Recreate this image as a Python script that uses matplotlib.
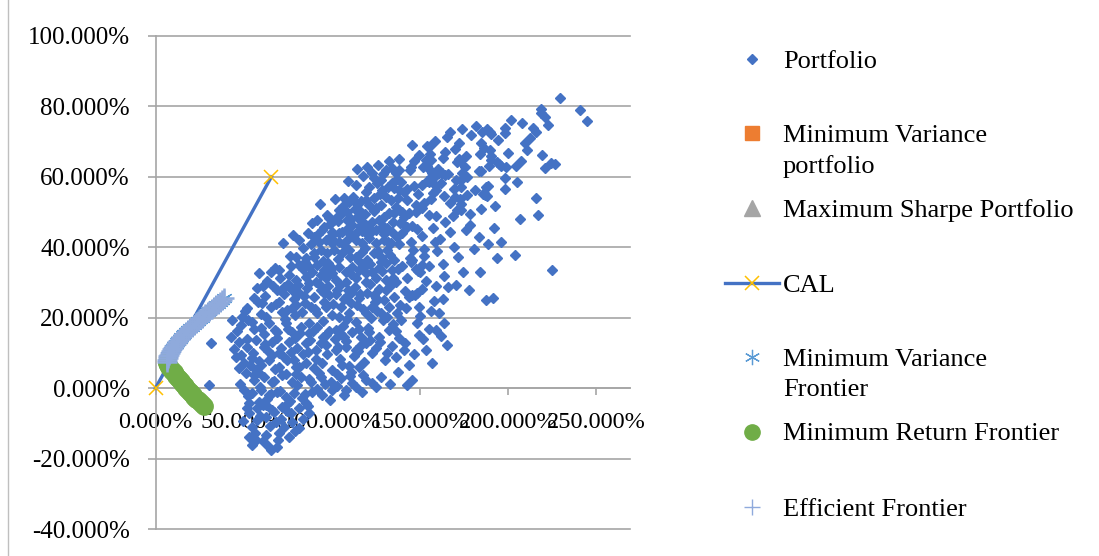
import matplotlib.pyplot as plt
from matplotlib.ticker import FuncFormatter, MultipleLocator
from matplotlib.lines import Line2D
import numpy as np

# risk (std dev, %) and return (%) of the simulated portfolios, grouped by area of the cloud
top_sd = [229.2, 240.6, 244.5, 218.5, 218.5, 220.7, 207.7, 222.4, 214.0, 215.6,
          198.1, 198.1, 181.7, 187.9, 189.6, 190.2, 185.1, 173.8, 165.3, 209.4,
          210.6, 184.5, 186.2, 189.6, 190.2, 190.2, 172.1, 169.8, 176.0, 172.1,
          170.9, 172.6, 163.0, 154.0, 155.7, 155.7, 156.2, 153.4, 154.0, 151.7,
          155.7, 145.5, 146.6, 144.9, 144.3, 219.0, 193.6, 194.7, 195.8, 198.7,
          204.3, 220.7, 224.1, 226.4, 183.4, 184.5, 189.0, 173.8, 176.6, 173.2,
          170.4, 160.2, 160.7, 162.4, 165.8, 159.0, 164.1, 156.8, 156.2, 157.9,
          155.1, 198.1, 204.9, 187.3, 188.5, 186.2, 186.8, 187.9, 185.6, 169.2,
          173.2, 163.6, 169.8, 172.6, 173.2, 170.9, 173.2, 159.0, 157.3, 156.2,
          159.0, 215.6, 216.8, 184.5, 178.3, 178.3, 168.7, 167.0, 169.2, 191.9,
          195.8, 193.6, 203.8, 183.4, 184.0, 224.7, 155.1, 159.0, 158.5, 159.6,
          152.3, 152.3, 145.5, 144.9, 151.1, 155.1, 147.7, 148.9, 150.0, 163.6,
          165.8, 170.4, 151.1, 145.5, 143.8, 147.2, 148.3, 157.9, 187.3, 191.3,
          142.1, 149.4, 138.1, 138.1, 139.2, 138.1, 140.9, 142.6, 146.6, 151.1,
          138.1, 139.8, 140.9, 143.8, 140.9, 142.6, 145.5, 148.3, 139.8, 144.9,
          152.3, 147.7, 151.1, 147.7]
top_ret = [82.4, 79.0, 75.9, 79.3, 78.1, 77.0, 75.3, 74.7, 73.9, 72.7,
           73.9, 72.4, 74.4, 73.6, 72.7, 72.2, 72.7, 73.6, 71.3, 69.6,
           67.6, 69.6, 68.2, 67.6, 65.9, 64.8, 69.6, 67.9, 65.9, 65.0,
           64.2, 64.5, 65.3, 68.7, 68.7, 66.5, 64.8, 64.8, 63.0, 62.8,
           61.9, 69.0, 64.5, 62.8, 61.9, 66.2, 64.2, 63.6, 63.0, 62.8,
           63.0, 62.5, 63.9, 63.6, 61.6, 61.6, 63.0, 61.1, 59.9, 59.1,
           59.1, 62.2, 61.1, 61.1, 60.8, 60.5, 60.5, 61.1, 59.9, 59.9,
           58.5, 59.6, 58.5, 57.1, 57.4, 55.4, 54.8, 54.5, 55.1, 56.5,
           57.1, 54.5, 54.2, 53.7, 52.3, 50.6, 50.6, 57.4, 55.4, 53.7,
           56.3, 54.0, 49.2, 50.8, 49.4, 46.3, 48.9, 44.3, 40.0, 45.4,
           41.5, 36.9, 37.8, 42.9, 32.9, 33.5, 49.1, 48.8, 41.5, 38.9,
           39.5, 37.5, 36.4, 35.8, 34.9, 34.6, 33.8, 33.2, 32.9, 31.8,
           28.7, 29.3, 28.1, 26.4, 25.8, 26.4, 27.0, 24.7, 25.0, 25.6,
           22.7, 23.0, 65.0, 61.9, 58.5, 56.3, 55.7, 56.5, 57.4, 57.7,
           50.6, 50.0, 48.6, 49.7, 46.3, 45.7, 46.0, 45.2, 44.0, 41.5,
           52.6, 52.0, 51.1, 50.0]

mid_sd = [120.0, 122.8, 124.0, 125.7, 121.1, 128.5, 130.7, 134.1, 136.4, 127.9,
          134.1, 135.3, 112.1, 109.8, 113.8, 115.5, 119.4, 121.1, 124.0, 125.1,
          127.9, 130.7, 133.6, 137.5, 136.4, 104.1, 105.8, 108.7, 103.0, 91.7,
          98.5, 101.3, 108.7, 111.5, 114.3, 117.2, 119.4, 122.8, 126.8, 129.6,
          132.4, 135.3, 125.1, 128.5, 131.3, 134.1, 119.4, 113.8, 108.1, 104.1,
          100.2, 95.7, 90.0, 92.8, 96.8, 100.2, 104.1, 108.7, 113.8, 117.2,
          121.1, 125.1, 129.6, 133.6, 137.0, 79.8, 85.5, 90.0, 94.0, 97.4,
          101.3, 105.8, 109.8, 113.8, 117.2, 120.0, 124.0, 127.9, 131.3, 135.3,
          81.5, 87.2, 91.7, 95.7, 100.2, 104.1, 108.1, 111.5, 115.5, 119.4,
          122.8, 126.8, 130.7, 134.1, 70.2, 75.8, 79.8, 85.5, 91.1, 96.8,
          102.4, 108.1, 113.8, 119.4, 125.1, 130.7, 136.4, 69.1, 57.7, 73.0,
          77.5, 81.5, 86.0, 90.0, 94.0, 98.5, 103.0, 108.1, 111.5, 115.5,
          120.0, 125.1, 130.7, 135.3, 60.6, 65.7, 70.2, 74.7, 79.8, 83.2,
          88.3, 91.7, 96.8, 100.2, 105.3, 109.8, 114.3, 119.4, 122.8, 127.9,
          132.4, 137.0, 52.1, 49.2]
mid_ret = [62.8, 61.1, 59.6, 58.2, 57.1, 56.3, 61.9, 62.5, 61.1, 59.1,
           58.2, 56.8, 54.2, 52.8, 52.5, 50.6, 53.4, 52.0, 54.0, 51.1,
           52.0, 54.2, 53.4, 54.0, 51.4, 50.6, 49.7, 50.0, 48.6, 47.7,
           48.3, 47.7, 47.7, 46.3, 48.6, 47.1, 46.3, 47.1, 47.7, 48.6,
           49.7, 49.7, 44.9, 44.9, 45.4, 44.3, 44.0, 44.0, 44.9, 44.0,
           44.3, 45.7, 42.9, 41.5, 42.0, 41.2, 41.5, 42.0, 42.0, 41.2,
           42.6, 41.2, 42.0, 41.2, 42.9, 37.2, 36.9, 37.2, 39.2, 38.3,
           39.2, 38.3, 39.2, 37.2, 38.6, 36.4, 38.3, 37.2, 39.2, 36.4,
           34.9, 34.4, 34.9, 33.5, 34.1, 34.4, 32.9, 34.4, 33.5, 34.9,
           32.9, 34.1, 35.5, 33.5, 33.5, 32.1, 30.7, 31.5, 30.1, 31.2,
           30.7, 30.1, 31.2, 30.1, 31.2, 30.7, 30.1, 27.8, 28.4, 28.7,
           27.8, 27.0, 28.4, 25.8, 27.8, 26.4, 27.8, 25.8, 27.3, 25.6,
           27.0, 25.6, 27.8, 25.8, 24.1, 23.0, 24.4, 22.2, 23.6, 21.6,
           23.0, 21.3, 23.0, 20.7, 23.0, 21.3, 23.6, 21.3, 23.0, 21.3,
           23.0, 21.3, 22.7, 20.2]

low_sd = [43.6, 48.7, 54.9, 60.0, 64.5, 69.1, 74.1, 77.5, 82.6, 87.2,
          91.7, 96.8, 102.4, 107.0, 111.5, 116.6, 121.1, 126.8, 132.4, 43.0,
          47.5, 52.1, 57.2, 61.7, 66.2, 71.3, 75.8, 80.4, 85.5, 91.1,
          96.8, 102.4, 108.1, 113.8, 119.4, 125.1, 131.3, 136.4, 45.8, 50.4,
          54.9, 60.0, 64.5, 70.2, 74.7, 79.8, 85.5, 90.0, 94.5, 100.2,
          105.8, 110.9, 115.5, 51.5, 56.0, 61.7, 66.2, 71.9, 77.5, 82.6,
          88.3, 94.0, 99.6, 105.3, 111.5, 119.4, 122.8]
low_ret = [19.3, 17.9, 18.7, 17.0, 18.5, 15.9, 18.5, 15.9, 17.3, 15.6,
           17.3, 15.1, 16.5, 14.5, 15.9, 14.5, 15.9, 14.5, 16.5, 14.5,
           13.1, 11.6, 13.6, 11.6, 13.1, 11.4, 13.1, 11.4, 12.8, 10.8,
           12.2, 10.8, 11.6, 10.8, 12.8, 11.4, 9.9, 8.8, 8.8, 7.1,
           8.5, 6.5, 8.0, 6.0, 8.0, 6.0, 7.1, 5.7, 7.1, 5.1,
           6.5, 4.5, 6.0, 4.3, 2.3, 3.1, 1.7, 3.7, 1.7, 3.1,
           1.7, 3.1, 1.7, 2.8, 1.4, 2.3, 1.4]

neg_sd = [50.4, 54.9, 60.0, 64.5, 69.1, 74.1, 78.7, 83.2, 88.9, 94.5,
          100.2, 108.1, 113.8, 53.2, 57.7, 62.8, 67.4, 71.9, 77.0, 81.5,
          87.2, 53.2, 57.7, 62.8, 68.5, 73.0, 77.5, 81.5, 54.9, 53.2,
          62.8, 70.2, 75.8, 54.9, 65.7, 69.1, 31.7, 30.6, 160.7, 163.6,
          159.0, 149.4, 153.4, 156.8, 145.5, 139.2, 148.3, 138.1, 140.9, 143.8,
          165.3]
neg_ret = [-0.6, -1.4, -0.6, -2.0, -1.1, -2.6, -1.4, -2.8, -1.1, -2.0,
           -0.6, -0.6, 0.3, -4.3, -5.7, -4.8, -6.8, -5.4, -7.1, -5.7,
           -7.1, -7.1, -9.1, -8.2, -9.7, -11.1, -9.7, -11.4, -11.1, -13.9,
           -13.4, -12.8, -13.9, -16.2, -17.6, -16.8, 12.8, 0.9, 21.3, 18.5,
           16.5, 15.1, 10.8, 7.1, 2.3, 19.3, 18.5, 14.2, 10.8, 6.5,
           12.2]

# further portfolios, one return band per row pair
fill_sd = [113.5, 117.9, 126.2, 131.8, 119.6, 109.3, 128.7, 136.9, 114.2, 132.6,
           93.4, 97.1, 101.8, 106.4, 110.7, 116.3, 99.2, 94.6, 103.7, 112.9,
           118.8, 123.6, 129.2, 134.7, 121.4, 88.6, 106.9, 127.3, 138.6, 115.8,
           72.4, 77.9, 83.5, 86.7, 81.2, 89.6, 94.9, 99.7, 103.2, 107.6,
           111.2, 115.1, 118.6, 122.4, 126.1, 129.8, 133.2, 137.8, 76.3, 88.1,
           97.6, 110.4, 121.7, 131.9, 84.9, 92.3, 101.1, 116.9, 127.7, 105.5,
           58.8, 63.4, 67.9, 62.1, 66.8, 72.6, 76.9, 80.7, 84.2, 88.8,
           92.6, 95.3, 99.9, 104.6, 106.7, 110.8, 113.1, 117.6, 121.8, 123.9,
           128.4, 132.8, 137.6, 60.9, 70.8, 78.4, 87.3, 97.9, 109.2, 119.1,
           126.6, 134.6, 55.8, 65.2, 74.9, 83.6, 93.8, 102.2, 116.2, 129.5,
           46.3, 50.9, 55.6, 57.9, 62.7, 67.8, 71.6, 75.3, 79.1, 84.7,
           86.9, 90.4, 94.8, 98.6, 103.9, 106.2, 110.9, 113.6, 117.8, 120.7,
           124.6, 128.9, 134.9, 138.8, 52.6, 59.7, 68.3, 77.6, 89.2, 100.9,
           108.4, 115.2, 125.8, 131.1, 61.4, 73.2, 82.1, 95.7, 105.1, 122.3,
           44.7, 48.2, 51.6, 55.3, 58.6, 62.3, 65.9, 68.7, 72.8, 76.6,
           79.2, 83.7, 87.6, 90.8, 93.6, 97.2, 101.6, 104.4, 107.9, 112.4,
           116.1, 118.4, 122.6, 127.4, 130.2, 134.2, 47.1, 56.8, 63.7, 69.9,
           78.6, 86.4, 95.2, 103.3, 109.6, 114.9, 121.7, 53.7, 67.6, 81.1,
           47.8, 52.3, 55.9, 59.4, 63.2, 66.9, 70.6, 73.8, 76.1, 80.2,
           84.6, 86.8, 91.4, 96.3, 98.7, 103.1, 106.9, 110.2, 116.8, 58.2,
           65.6, 79.6, 92.7, 102.7, 61.1, 85.1, 117.4, 124.9,
           49.6, 51.9, 56.3, 59.2, 60.8, 64.9, 66.3, 71.2, 74.4, 78.9,
           83.7, 58.4, 69.6, 63.9, 57.1, 75.1, 86.2,
           158.4, 167.2, 178.9, 194.1, 201.7, 183.7, 163.9, 149.6, 175.2, 199.6,
           207.1, 212.4,
           142.8, 148.6, 153.9, 161.7, 166.9, 176.4, 181.2, 164.4, 157.6, 150.8,
           161.3, 175.9, 192.7, 206.4, 180.7, 146.2, 171.3, 162.8, 188.6, 197.9,
           139.7, 142.4, 153.2, 158.9, 141.6, 156.1, 162.9, 174.2, 177.8, 150.2,
           144.3,
           137.2, 141.3, 146.8, 151.8, 155.2, 161.6, 136.1, 142.7, 128.1, 132.7]
fill_ret = [57.8, 60.3, 63.4, 57.2, 55.7, 58.9, 60.8, 59.5, 62.1, 64.6,
            52.3, 49.2, 53.6, 51.8, 48.1, 53.1, 46.7, 44.8, 47.5, 50.9,
            49.4, 50.3, 46.1, 47.3, 45.2, 46.9, 53.9, 55.1, 46.8, 46.0,
            41.3, 43.6, 39.8, 44.1, 42.2, 38.4, 36.1, 43.1, 36.8, 40.4,
            43.5, 36.2, 39.7, 44.2, 38.9, 43.7, 37.9, 40.8, 37.6, 40.9,
            35.4, 37.1, 35.3, 41.6, 35.8, 43.9, 41.9, 44.6, 35.9, 44.2,
            32.6, 30.4, 34.2, 26.3, 28.9, 26.7, 34.6, 29.2, 26.1, 33.1,
            29.7, 26.9, 32.6, 29.4, 25.2, 32.3, 28.8, 34.1, 29.6, 26.4,
            33.2, 28.9, 33.9, 29.1, 31.2, 25.4, 29.8, 29.0, 27.9, 32.7,
            28.2, 31.4, 25.6, 32.9, 29.6, 33.8, 32.2, 26.6, 26.8, 25.1,
            16.2, 21.8, 16.8, 24.6, 20.3, 16.4, 21.6, 16.9, 20.9, 24.3,
            18.6, 22.6, 19.1, 16.3, 20.1, 17.6, 24.1, 18.9, 22.4, 17.1,
            24.6, 19.4, 18.2, 23.6, 19.4, 21.1, 23.8, 22.9, 16.1, 23.9,
            19.6, 16.7, 21.9, 20.1, 15.3, 19.7, 15.8, 24.4, 15.5, 19.9,
            11.2, 9.4, 13.9, 10.1, 7.6, 12.4, 9.3, 14.3, 8.9, 10.4,
            14.1, 9.6, 13.7, 8.2, 12.9, 9.8, 13.9, 8.4, 13.3, 9.1,
            12.1, 7.3, 10.1, 13.2, 7.9, 11.9, 5.6, 5.2, 10.6, 9.9,
            8.1, 10.3, 14.6, 11.8, 6.2, 10.6, 13.8, 6.6, 5.4, 5.9,
            1.2, -2.2, 3.6, 0.4, -3.1, 2.1, -0.8, 4.1, -3.6, 0.9,
            -1.8, 2.6, -0.2, 1.1, -3.3, 0.6, -1.9, 3.4, -1.2, 4.6,
            -1.6, 3.9, 4.4, 3.9, -4.7, -4.2, 3.7, 0.2,
            -9.4, -5.6, -12.6, -7.9, -15.1, -10.7, -6.1, -8.8, -6.4, -12.1,
            -8.7, -3.9, -14.6, -16.4, -14.8, -4.3, -5.1,
            70.2, 72.6, 71.8, 70.6, 76.1, 66.4, 67.1, 66.2, 62.9, 66.8,
            64.4, 71.1,
            53.4, 55.1, 58.9, 58.2, 52.7, 54.9, 56.2, 47.1, 45.6, 43.2,
            42.4, 44.8, 51.6, 48.1, 39.6, 39.2, 37.2, 35.3, 40.9, 56.6,
            34.8, 31.2, 30.4, 29.1, 27.6, 21.9, 25.3, 33.1, 27.8, 20.4,
            36.9,
            4.7, 12.9, 9.6, 13.9, 16.9, 14.8, 16.3, 0.9, 3.2, 1.1]

# frontier: upper (efficient) branch and lower (minimum return) branch
eff_ret = [7.5, 8.0, 8.5, 9.0, 9.5, 10.0, 10.5, 11.0, 11.5, 12.0, 12.5, 13.0, 13.5,
           14.0, 14.5, 15.0, 15.5, 16.0, 16.5, 17.0, 17.5, 18.0, 18.5, 19.0, 19.5,
           20.0, 20.5, 21.0, 21.5, 22.0, 22.5, 23.0, 23.5, 24.0, 24.5, 25.0, 25.5]
eff_sd = [6.5, 6.6, 6.9, 7.3, 7.7, 8.2, 8.8, 9.4, 10.0, 10.7, 11.4, 12.1, 12.9,
          13.7, 14.5, 15.4, 16.3, 17.3, 18.3, 19.4, 20.5, 21.7, 22.9, 23.9, 25.0,
          26.1, 27.2, 28.3, 29.5, 30.6, 31.8, 33.0, 34.2, 35.4, 36.6, 37.8, 39.0]
minret_ret = [7.0, 6.5, 6.0, 5.5, 5.0, 4.5, 4.0, 3.5, 3.0, 2.5, 2.0, 1.5, 1.0,
              0.5, 0.0, -0.5, -1.0, -1.5, -2.0, -2.5, -3.0, -3.5, -4.0, -4.5, -5.0]
minret_sd = [6.6, 7.1, 7.8, 8.6, 9.5, 10.3, 11.1, 11.9, 12.7, 13.5, 14.3, 15.1, 15.9,
             16.7, 17.5, 18.4, 19.3, 20.2, 21.1, 22.1, 23.1, 24.1, 25.1, 26.2, 27.3]

minvar_pt = (6.5, 7.5)
maxsharpe_pt = (14.5, 14.5)
cal_sd = [0.0, 65.7]
cal_ret = [0.0, 60.0]

BLUE = '#4472C4'
ORANGE = '#ED7D31'
GREY = '#A5A5A5'
GOLD = '#FFC000'
LBLUE = '#5B9BD5'
GREEN = '#70AD47'
PLUS = '#8FAADC'
GRID = '#A6A6A6'
ASTER = (6, 2, 0)

plt.rcParams['font.family'] = ['Liberation Serif', 'DejaVu Serif']

W, H = 1099, 556
fig = plt.figure(figsize=(W / 100, H / 100), dpi=100)
ax = fig.add_axes([155.5 / W, 1 - 529 / H, (630 - 155.5) / W, (529 - 36) / H])

port_sd = np.concatenate([top_sd, mid_sd, low_sd, neg_sd, fill_sd])
port_ret = np.concatenate([top_ret, mid_ret, low_ret, neg_ret, fill_ret])
assert len(port_sd) == len(port_ret)
front_sd = list(reversed(minret_sd)) + eff_sd
front_ret = list(reversed(minret_ret)) + eff_ret

ax.plot(port_sd, port_ret, ls='none', marker='D', ms=5, color=BLUE, zorder=3)
ax.plot(*minvar_pt, ls='none', marker='s', ms=8, color=ORANGE, zorder=3)
ax.plot(*maxsharpe_pt, ls='none', marker='^', ms=9, color=GREY, zorder=3)
ax.plot(cal_sd, cal_ret, color=BLUE, lw=2.4, marker='x', ms=10, mec=GOLD, mew=1.1,
        zorder=4, clip_on=False)
ax.plot(front_sd, front_ret, ls='none', marker=ASTER, ms=12, mec=LBLUE, mew=0.9, zorder=5)
ax.plot([minvar_pt[0]] + minret_sd, [minvar_pt[1]] + minret_ret, ls='none', marker='o',
        ms=12.5, color=GREEN, zorder=6)
ax.plot(eff_sd, eff_ret, ls='none', marker='+', ms=14, mec=PLUS, mew=1.8, zorder=7)

ax.set_xlim(0, 269)
ax.set_ylim(-40, 100)
ax.set_xticks([0, 50, 100, 150, 200, 250])
ax.yaxis.set_major_locator(MultipleLocator(20))
pct = FuncFormatter(lambda v, p: f"{v:.3f}%")
ax.xaxis.set_major_formatter(pct)
ax.yaxis.set_major_formatter(pct)

ax.yaxis.grid(True, color=GRID, lw=1.2, zorder=0)
for gl in ax.get_ygridlines():
    gl.set_clip_on(False)
ax.set_axisbelow(True)
for s in ('top', 'right'):
    ax.spines[s].set_visible(False)
ax.spines['bottom'].set_position(('data', 0))
for s in ('bottom', 'left'):
    ax.spines[s].set_color(GRID)
    ax.spines[s].set_linewidth(1.2)
ax.tick_params(axis='x', direction='out', length=5, width=1.2, color=GRID, pad=12,
               labelsize=17.5)
ax.tick_params(axis='y', direction='out', length=5.5, width=1.2, color=GRID, pad=13,
               labelsize=18)
ax.set_facecolor('none')

# legend drawn on a pixel-space overlay
lax = fig.add_axes([0, 0, 1, 1], zorder=10)
lax.set_xlim(0, W)
lax.set_ylim(H, 0)
lax.axis('off')
lax.patch.set_visible(False)

mx, tx, fs = 752, 783, 19
lax.plot(mx, 59, marker='D', ms=5, color=BLUE)
lax.plot(mx, 133, marker='s', ms=10.5, color=ORANGE)
lax.plot(mx, 208, marker='^', ms=11, color=GREY)
lax.plot([725, 779], [283, 283], color=BLUE, lw=2.4)
lax.plot(mx, 283, marker='x', ms=10, mec=GOLD, mew=1.1)
lax.plot(mx, 357, marker=ASTER, ms=11, mec=LBLUE, mew=0.9)
lax.plot(mx, 432, marker='o', ms=11, color=GREEN)
lax.plot(mx, 507, marker='+', ms=12, mec=PLUS, mew=1.0)

legend_lines = [("Portfolio", 59), ("Minimum Variance", 133), ("portfolio", 164),
                ("Maximum Sharpe Portfolio", 208), ("CAL", 283),
                ("Minimum Variance", 357), ("Frontier", 387),
                ("Minimum Return Frontier", 432), ("Efficient Frontier", 507)]
for txt, y in legend_lines:
    lax.text(tx, y, txt, fontsize=fs, va='center_baseline', ha='left')

fig.add_artist(Line2D([7.5 / W, 7.5 / W], [0, 1], transform=fig.transFigure,
                      color='#BFBFBF', lw=1))

fig.savefig('out.png', dpi=100, facecolor='white')
